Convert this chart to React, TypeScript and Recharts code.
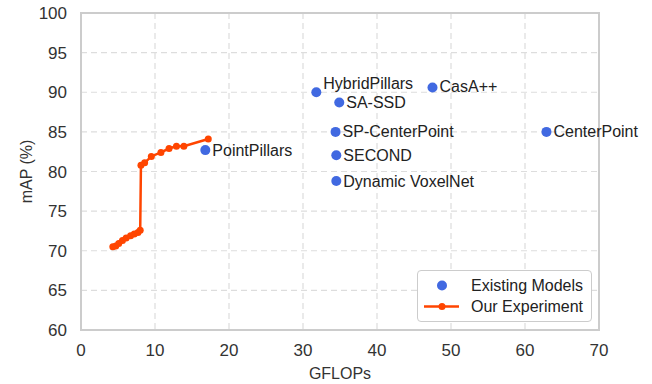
import {
  ScatterChart,
  Scatter,
  XAxis,
  YAxis,
  CartesianGrid,
  LabelList,
  ReferenceArea,
} from "recharts";

const modelNames = [
  "PointPillars",
  "HybridPillars",
  "CasA++",
  "SA-SSD",
  "SP-CenterPoint",
  "SECOND",
  "Dynamic VoxelNet",
  "CenterPoint",
];
const modelGflops = [16.8, 31.8, 47.5, 34.9, 34.4, 34.5, 34.5, 62.9];
const modelMap = [82.7, 90.0, 90.6, 88.7, 85.0, 82.05, 78.8, 85.0];

const expGflops = [4.3, 4.7, 5.1, 5.6, 6.1, 6.7, 7.2, 7.7, 8.0, 8.1, 8.6, 9.5, 10.8, 11.9, 12.9, 13.9, 17.2];
const expMap = [70.5, 70.6, 70.9, 71.3, 71.6, 71.9, 72.1, 72.3, 72.6, 80.8, 81.1, 81.9, 82.4, 82.9, 83.2, 83.2, 84.1];

const xTicks = [0, 10, 20, 30, 40, 50, 60, 70];
const yTicks = [60, 65, 70, 75, 80, 85, 90, 95, 100];

const models = modelNames.map((name, i) => ({ name, x: modelGflops[i], y: modelMap[i] }));
const experiment = expGflops.map((x, i) => ({ x, y: expMap[i] }));

const BLUE = "#4169E1";
const ORANGE = "#FF4500";
const FONT = "'Liberation Sans', Arial, sans-serif";

// a few labels sit above the dot instead of beside it
const labelShift: Record<string, number> = { HybridPillars: -9, "CasA++": -1 };

function ModelLabel(props: any) {
  const { x, y, width, value } = props;
  const dy = labelShift[value] ?? 0;
  return (
    <text
      x={x + width / 2 + 7}
      y={y + width / 2 + dy}
      dy="0.35em"
      fontSize={16}
      fill="#222"
      fontFamily={FONT}
    >
      {value}
    </text>
  );
}

function LegendBox() {
  return (
    <div
      style={{
        position: "absolute",
        left: 417,
        top: 270,
        width: 175,
        boxSizing: "border-box",
        border: "1px solid #ccc",
        borderRadius: 4,
        background: "#fff",
        padding: "4px 6px 4px 5px",
        fontFamily: FONT,
        fontSize: 16,
        color: "#222",
        lineHeight: "21px",
        whiteSpace: "nowrap",
      }}
    >
      <div style={{ display: "flex", alignItems: "center" }}>
        <svg width={36} height={21}>
          <circle cx={19} cy={10.5} r={5} fill={BLUE} />
        </svg>
        <span style={{ marginLeft: 12 }}>Existing Models</span>
      </div>
      <div style={{ display: "flex", alignItems: "center" }}>
        <svg width={36} height={21}>
          <line x1={1} y1={10.5} x2={36} y2={10.5} stroke={ORANGE} strokeWidth={2.5} />
          <circle cx={19} cy={10.5} r={3.5} fill={ORANGE} />
        </svg>
        <span style={{ marginLeft: 12 }}>Our Experiment</span>
      </div>
    </div>
  );
}

export default function App() {
  return (
    <div style={{ position: "absolute", left: 0, top: 0, width: 652, height: 384, background: "#fff" }}>
      <ScatterChart
        width={652}
        height={384}
        margin={{ top: 13, right: 53, bottom: 0, left: 0 }}
      >
        <CartesianGrid stroke="#ddd" strokeDasharray="6 4" strokeWidth={1.2} />
        <XAxis
          type="number"
          dataKey="x"
          domain={[0, 70]}
          ticks={xTicks}
          height={54}
          axisLine={false}
          tickLine={false}
          tickSize={0}
          tickMargin={14}
          tick={{ fill: "#333", fontSize: 17, fontFamily: FONT }}
          label={{
            value: "GFLOPs",
            position: "insideBottom",
            offset: 5,
            style: { fill: "#333", fontSize: 16, fontFamily: FONT },
          }}
        />
        <YAxis
          type="number"
          dataKey="y"
          domain={[60, 100]}
          ticks={yTicks}
          width={81}
          axisLine={false}
          tickLine={false}
          tickSize={0}
          tickMargin={14}
          tick={{ fill: "#333", fontSize: 17, fontFamily: FONT }}
          label={{
            value: "mAP (%)",
            angle: -90,
            position: "insideLeft",
            offset: 26,
            style: { textAnchor: "middle", fill: "#333", fontSize: 16, fontFamily: FONT },
          }}
        />
        <ReferenceArea
          x1={0}
          x2={70}
          y1={60}
          y2={100}
          fill="none"
          stroke="#ccc"
          strokeWidth={2}
          ifOverflow="visible"
        />
        <Scatter
          name="Our Experiment"
          data={experiment}
          fill={ORANGE}
          line={{ stroke: ORANGE, strokeWidth: 2.5 }}
          lineType="joint"
          shape={(p: any) => <circle cx={p.cx} cy={p.cy} r={3.5} fill={ORANGE} />}
          isAnimationActive={false}
        />
        <Scatter
          name="Existing Models"
          data={models}
          fill={BLUE}
          shape={(p: any) => <circle cx={p.cx} cy={p.cy} r={5} fill={BLUE} />}
          isAnimationActive={false}
        >
          <LabelList dataKey="name" content={<ModelLabel />} />
        </Scatter>
      </ScatterChart>
      <LegendBox />
    </div>
  );
}
